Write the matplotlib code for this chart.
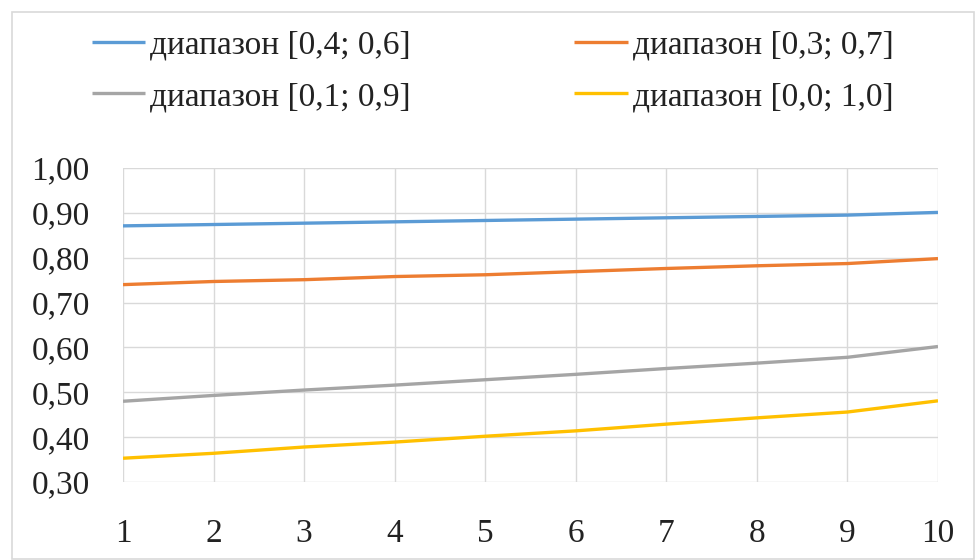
import matplotlib
matplotlib.use("Agg")
import matplotlib.pyplot as plt
from matplotlib.patches import Rectangle
from matplotlib.ticker import FuncFormatter

plt.rcParams['font.family'] = ['Liberation Serif', 'DejaVu Serif']

x = [1, 2, 3, 4, 5, 6, 7, 8, 9, 10]
range_04_06 = [0.871, 0.874, 0.877, 0.880, 0.883, 0.886, 0.889, 0.892, 0.895, 0.901]
range_03_07 = [0.740, 0.747, 0.751, 0.758, 0.762, 0.769, 0.776, 0.782, 0.787, 0.798]
range_01_09 = [0.480, 0.493, 0.505, 0.516, 0.528, 0.540, 0.553, 0.565, 0.578, 0.602]
range_00_10 = [0.353, 0.364, 0.378, 0.389, 0.402, 0.414, 0.429, 0.443, 0.456, 0.481]
labels = ['диапазон [0,4; 0,6]', 'диапазон [0,3; 0,7]',
          'диапазон [0,1; 0,9]', 'диапазон [0,0; 1,0]']
colors = ['#5B9BD5', '#ED7D31', '#A5A5A5', '#FFC000']

fig = plt.figure(figsize=(9.77, 5.60), dpi=100)
ax = fig.add_axes([123/977, 1 - 482/560, (938 - 123)/977, (482 - 168)/560])

series = [range_04_06, range_03_07, range_01_09, range_00_10]
lines = []
for ys, lab, c in zip(series, labels, colors):
    ln, = ax.plot(x, ys, color=c, lw=2.4, label=lab, solid_capstyle='butt')
    lines.append(ln)

ax.set_xlim(1, 10)
ax.set_ylim(0.30, 1.00)
ax.set_xticks(x)
ax.set_yticks([0.3, 0.4, 0.5, 0.6, 0.7, 0.8, 0.9, 1.0])
ax.yaxis.set_major_formatter(FuncFormatter(lambda v, p: f"{v:.2f}".replace('.', ',')))
ax.grid(True, color='#d9d9d9', lw=1)
ax.set_axisbelow(True)
for s in ax.spines.values():
    s.set_visible(False)
ax.tick_params(axis='both', length=0, labelsize=24, colors='#222222')
ax.tick_params(axis='y', pad=24)
ax.tick_params(axis='x', pad=26)

# legend fills column by column, so reorder to get Excel's row order
order = [0, 2, 1, 3]
fig.legend([lines[i] for i in order], [labels[i] for i in order],
           loc='upper left', bbox_to_anchor=(92/977, 1 - 30/560), ncol=2,
           frameon=False, fontsize=24, handlelength=1.6, handletextpad=0.15,
           columnspacing=4.9, labelspacing=0.63, borderpad=0, borderaxespad=0,
           labelcolor='#222222')

fig.patches.append(Rectangle((12/977, 0.002), 962/977, 1 - 12/560 - 0.002,
                             transform=fig.transFigure, fill=False,
                             edgecolor='#d9d9d9', lw=1.2))

fig.savefig('out.png', dpi=100)
